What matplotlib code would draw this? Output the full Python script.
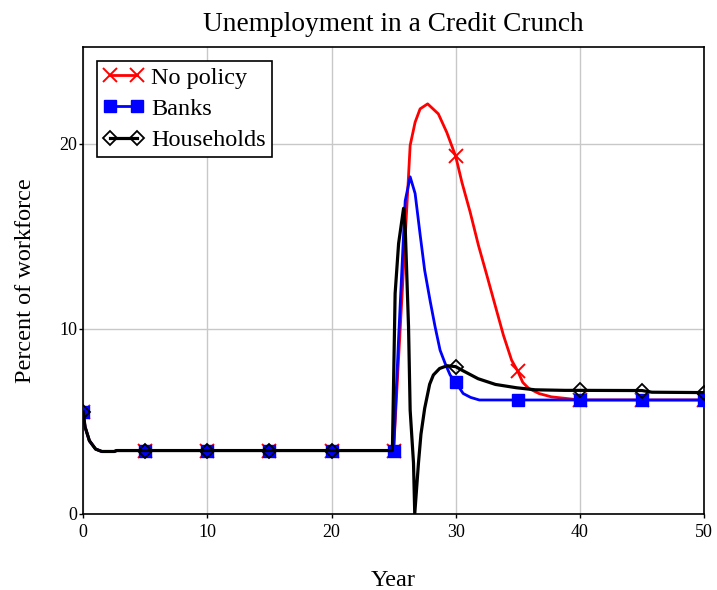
import matplotlib
matplotlib.use("Agg")
import matplotlib.pyplot as plt

plt.rcParams["font.family"] = ["Liberation Serif", "DejaVu Serif"]

# ---- data (year, percent of workforce) ----
nopol_t = [0, 0.15, 0.5, 1.0, 1.5, 2.5, 2.7, 5, 10, 15, 20, 25, 25.4, 25.8,
           26.2, 26.33, 26.73, 27.13, 27.74, 28.6, 29.28, 30, 30.5, 31.16, 31.83,
           32.5, 33.17, 33.84, 34.5, 35, 35.4, 35.87, 36.7, 37.7, 38.8, 40, 45, 50]
nopol_u = [5.5, 4.7, 3.95, 3.5, 3.37, 3.37, 3.42, 3.42, 3.42, 3.42, 3.42, 3.42, 8.4, 13.3,
           18.27, 19.9, 21.15, 21.87, 22.14, 21.6, 20.6, 19.3, 17.9, 16.3, 14.5,
           12.9, 11.27, 9.65, 8.3, 7.7, 7.1, 6.78, 6.5, 6.32, 6.24, 6.15, 6.15, 6.15]

banks_t = [0, 0.15, 0.5, 1.0, 1.5, 2.5, 2.7, 5, 10, 15, 20, 25, 25.4, 25.93,
           26.33, 26.73, 27.13, 27.5, 27.94, 28.34, 28.74, 29.15, 29.55, 30, 30.6,
           31.2, 31.9, 35, 40, 45, 50]
banks_u = [5.5, 4.7, 3.95, 3.5, 3.37, 3.37, 3.42, 3.42, 3.42, 3.42, 3.42, 3.42, 9.5, 16.9,
           18.2, 17.3, 15.1, 13.15, 11.5, 10.1, 8.84, 8.12, 7.5, 7.1, 6.5,
           6.29, 6.15, 6.15, 6.15, 6.15, 6.15]

house_t = [0, 0.15, 0.5, 1.0, 1.5, 2.5, 2.7, 5, 10, 15, 20, 24.9, 25.12, 25.4,
           25.8, 25.93, 26.2, 26.33, 26.6, 26.7, 27.0, 27.2, 27.5, 27.9, 28.2,
           28.7, 29.3, 30, 30.5, 31.8, 33.2, 34.9, 36.4, 38.8, 40, 45, 45.8, 50]
house_u = [5.5, 4.7, 3.95, 3.5, 3.37, 3.37, 3.42, 3.42, 3.42, 3.42, 3.42, 3.42, 11.9, 14.6,
           16.5, 15.5, 10.1, 5.6, 2.75, 0.0, 2.75, 4.3, 5.7, 7.0, 7.5,
           7.85, 8.0, 7.95, 7.76, 7.3, 6.99, 6.81, 6.7, 6.67, 6.67, 6.66, 6.57, 6.55]


def every5(ts):
    return [i for i, t in enumerate(ts) if t % 5 == 0]


fig = plt.figure(figsize=(7.17, 5.90), dpi=100)
ax = fig.add_axes([0.116, 0.129, 0.866, 0.791])

ax.plot(nopol_t, nopol_u, color="red", lw=2.0, marker="x", ms=10, mew=1.4,
        markevery=every5(nopol_t), label="No policy", zorder=3)
ax.plot(banks_t, banks_u, color="blue", lw=2.0, marker="s", ms=9,
        markevery=every5(banks_t), label="Banks", zorder=4)
ax.plot(house_t, house_u, color="black", lw=2.3, marker="D", ms=7.5,
        mfc="none", mec="black", mew=1.3,
        markevery=every5(house_t), label="Households", zorder=5)

ax.set_xlim(0, 50)
ax.set_ylim(0, 25.2)
ax.set_xticks([0, 10, 20, 30, 40, 50])
ax.set_yticks([0, 10, 20])
ax.tick_params(axis="y", length=3, width=1, labelsize=13, pad=1)
ax.tick_params(axis="x", length=3, width=1, labelsize=13, pad=4)
ax.grid(True, color="#c8c8c8", lw=1)
ax.set_axisbelow(True)
for sp in ax.spines.values():
    sp.set_linewidth(1.2)

ax.set_title("Unemployment in a Credit Crunch", fontsize=19.7, pad=12)
ax.set_xlabel("Year", fontsize=17.5, labelpad=21)
ax.set_ylabel("Percent of workforce", fontsize=17.5, labelpad=17)

leg = ax.legend(loc="upper left", fontsize=17.5, numpoints=2, handlelength=1.7,
                fancybox=False, framealpha=1, edgecolor="black",
                borderpad=0.25, labelspacing=0.38, handletextpad=0.3,
                borderaxespad=0.55)
leg.get_frame().set_linewidth(1.2)

fig.savefig("out.png", dpi=100)
